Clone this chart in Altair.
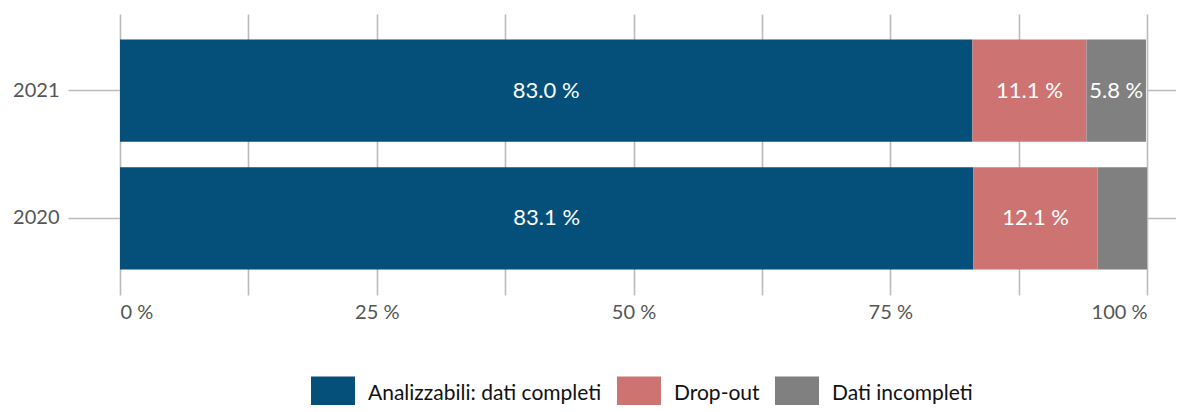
import altair as alt
import pandas as pd

years = ["2021", "2020"]
categories = ["Analizzabili: dati completi", "Drop-out", "Dati incompleti"]
values_2021 = [83.0, 11.1, 5.8]
values_2020 = [83.1, 12.1, 4.8]
colors = ["#054f7b", "#cd7472", "#808080"]
x_ticks = [0, 12.5, 25, 37.5, 50, 62.5, 75, 87.5, 100]

rows = []
for y, vals in zip(years, [values_2021, values_2020]):
    for i, (c, v) in enumerate(zip(categories, vals)):
        rows.append({"anno": y, "categoria": c, "valore": v, "ordine": i})
df = pd.DataFrame(rows)

FONT = "Lato"
GRID = "#bbbbbb"

base = alt.Chart(df).transform_stack(
    stack="valore", groupby=["anno"], as_=["v0", "v1"],
    sort=[alt.SortField("ordine", order="ascending")]
).transform_calculate(
    mid="(datum.v0 + datum.v1) / 2",
    label="format(datum.valore, '.1f') + ' %'"
)

yscale = alt.Scale(paddingInner=0.2, paddingOuter=0.2)

bars = base.mark_bar().encode(
    x=alt.X("v0:Q", scale=alt.Scale(domain=[0, 100], nice=False),
            axis=alt.Axis(values=x_ticks, title=None, ticks=False, domain=False,
                          grid=True, gridColor=GRID, gridWidth=1.6,
                          labelExpr="datum.value % 25 == 0 ? datum.value + ' %' : ''",
                          labelFont=FONT, labelFontSize=20, labelColor="#555555",
                          labelPadding=7)),
    x2="v1:Q",
    y=alt.Y("anno:N", sort=years, scale=yscale,
            axis=alt.Axis(title=None, tickSize=52, tickColor=GRID, tickWidth=1.6,
                          domain=False, grid=False, labelFont=FONT, labelFontSize=20,
                          labelColor="#555555", labelPadding=9)),
    color=alt.Color("categoria:N", sort=categories,
                    scale=alt.Scale(domain=categories, range=colors),
                    legend=alt.Legend(title=None, orient="none", legendX=191, legendY=358,
                                      direction="horizontal",
                                      symbolType="M-1,-0.82H1V0.82H-1Z",
                                      symbolSize=1936, symbolStrokeWidth=0, symbolOpacity=1,
                                      labelFont=FONT, labelFontSize=21, labelColor="#111111",
                                      labelOffset=13, columnPadding=15, labelLimit=400)),
)

labels = base.transform_filter("datum.valore >= 5").mark_text(
    color="white", font=FONT, fontSize=22
).encode(
    x=alt.X("mid:Q"),
    y=alt.Y("anno:N", sort=years,
            axis=alt.Axis(orient="right", title=None, labels=False, tickSize=37,
                          tickColor=GRID, tickWidth=1.6, domain=False, grid=False)),
    text="label:N",
)

chart = alt.layer(bars, labels).resolve_axis(y="independent").properties(
    width=1027, height=281,
    autosize=alt.AutoSizeParams(type="none"),
    padding={"left": 112, "top": 6, "right": 29, "bottom": 110},
).configure_view(stroke=None)

chart.save("out.html", embed_options={"renderer": "svg", "actions": False})
